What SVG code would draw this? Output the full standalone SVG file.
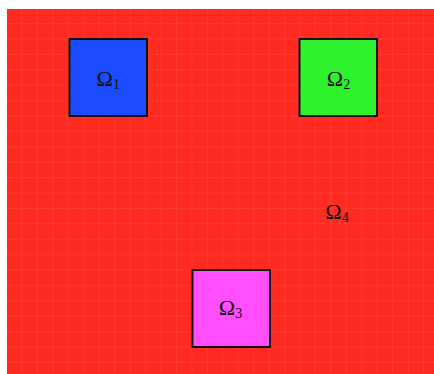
<svg xmlns="http://www.w3.org/2000/svg" width="434" height="374" viewBox="0 0 434 374">
<defs>
<pattern id="grid" x="7" y="8.7" width="15.45" height="15.4" patternUnits="userSpaceOnUse">
<path d="M15.45 0V15.4M0 15.4H15.45" fill="none" stroke="#ffffff" stroke-opacity="0.13" stroke-width="1"/>
</pattern>
</defs>
<style>
.box{stroke:#111;stroke-width:2}
.lbl{font-family:"Liberation Serif","DejaVu Serif",serif;font-size:22px;fill:#111;text-anchor:middle}
.sub{font-size:14px}
</style>
<rect width="434" height="374" fill="#ffffff"/>
<g id="domain">
<rect x="7" y="9" width="427" height="365" fill="#ff2b20"/>
<rect x="7" y="9" width="427" height="365" fill="url(#grid)"/>
<text class="lbl" x="337" y="218.5">Ω<tspan class="sub" dy="3">4</tspan></text>
</g>
<g id="omega1">
<rect class="box" x="69.5" y="39" width="77.5" height="77" fill="#1b4cff"/>
<text class="lbl" x="108.3" y="85.5">Ω<tspan class="sub" dy="3">1</tspan></text>
</g>
<g id="omega2">
<rect class="box" x="299.5" y="39" width="77.5" height="77" fill="#2ef22e"/>
<text class="lbl" x="338.5" y="85.5">Ω<tspan class="sub" dy="3">2</tspan></text>
</g>
<g id="omega3">
<rect class="box" x="192.5" y="270" width="77.5" height="77" fill="#ff4dff"/>
<text class="lbl" x="230.5" y="314.5">Ω<tspan class="sub" dy="3">3</tspan></text>
</g>
</svg>
